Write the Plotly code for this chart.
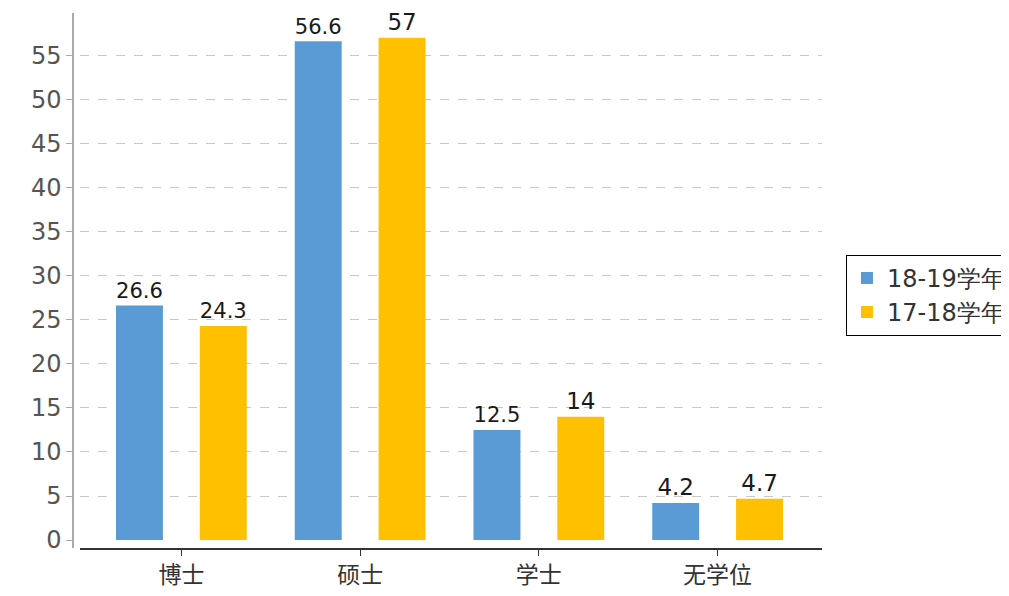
import plotly.graph_objects as go

categories = ["博士", "硕士", "学士", "无学位"]
series_names = ["18-19学年", "17-18学年"]
values_1819 = [26.6, 56.6, 12.5, 4.2]
values_1718 = [24.3, 57, 14, 4.7]
y_ticks = [0, 5, 10, 15, 20, 25, 30, 35, 40, 45, 50, 55]
grid_vals = [5, 10, 15, 20, 25, 30, 35, 40, 45, 50, 55]
colors = ["#5B9BD5", "#FFC000"]

fig = go.Figure()
for name, vals, col in zip(series_names, [values_1819, values_1718], colors):
    fig.add_trace(go.Bar(
        x=categories, y=vals, name=name,
        marker=dict(color=col, line=dict(width=0)),
        text=[f"{v:g}" for v in vals],
        textposition="outside",
        textfont=dict(family="DejaVu Sans, Verdana, sans-serif", size=23, color="#1a1a1a"),
        cliponaxis=False,
    ))

fig.update_layout(
    width=1009, height=596,
    margin=dict(l=65, r=195, t=5, b=56),
    paper_bgcolor="white", plot_bgcolor="white",
    barmode="group", bargap=0.062, bargroupgap=0.44,
    showlegend=True,
    legend=dict(
        x=1.032, y=0.548, xanchor="left", yanchor="top",
        bordercolor="#000000", borderwidth=1, bgcolor="white",
        font=dict(family="DejaVu Sans, Verdana, sans-serif", size=24, color="#333333"),
        itemwidth=30, tracegroupgap=4,
    ),
    xaxis=dict(
        domain=[0.0094, 1.0],
        range=[-0.567, 3.584],
        showline=True, linecolor="#333333", linewidth=1.5,
        ticks="outside", ticklen=6, tickcolor="#333333",
        showgrid=False, automargin=False,
        tickfont=dict(family="Noto Sans CJK SC, sans-serif", size=23, color="#333333"),
    ),
    yaxis=dict(
        anchor="free", position=0,
        range=[-0.9, 59.8],
        tickvals=y_ticks,
        showline=True, linecolor="#aaaaaa", linewidth=1.5,
        ticks="outside", ticklen=6, tickcolor="#aaaaaa",
        showgrid=False, zeroline=False, automargin=False,
        minor=dict(tickvals=grid_vals, showgrid=True, gridcolor="#c8c8c8",
                   griddash="dash", gridwidth=1, ticks=""),
        tickfont=dict(family="DejaVu Sans, Verdana, sans-serif", size=24, color="#555555"),
    ),
)

fig.write_html("out.html")
